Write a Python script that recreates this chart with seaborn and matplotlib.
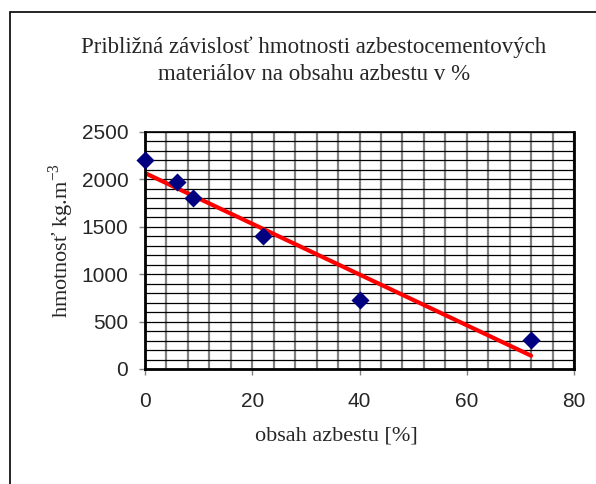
import matplotlib
matplotlib.use("Agg")
import matplotlib.pyplot as plt
from matplotlib.patches import Rectangle
from matplotlib.ticker import MultipleLocator
import pandas as pd
import seaborn as sns

# obsah azbestu [%] vs hmotnost [kg/m3]
asbestos_pct = [0, 6, 9, 22, 40, 72]
density = [2200, 1975, 1800, 1400, 730, 310]

title = "Približná závislosť hmotnosti azbestocementových\nmateriálov na obsahu azbestu v %"
xlabel = "obsah azbestu [%]"
ylabel = "hmotnosť kg.m$^{-3}$"

sns.set_theme(style="white")
plt.rcParams["font.family"] = ["Liberation Sans", "DejaVu Sans"]
plt.rcParams["mathtext.fontset"] = "custom"
plt.rcParams["mathtext.rm"] = "Liberation Serif"

frame = pd.DataFrame({"x": asbestos_pct, "y": density})

fig = plt.figure(figsize=(5.96, 4.84), dpi=100)
ax = fig.add_axes([145 / 596, 1 - 369 / 484, 429 / 596, 237 / 484])

ax.set_xlim(0, 80); ax.set_ylim(0, 2500)
ax.xaxis.set_major_locator(MultipleLocator(20)); ax.xaxis.set_minor_locator(MultipleLocator(4))
ax.yaxis.set_major_locator(MultipleLocator(500)); ax.yaxis.set_minor_locator(MultipleLocator(100))
ax.grid(True, which="both", axis="x", color="#808080", lw=1.6, zorder=0)
ax.grid(True, which="both", axis="y", color="black", lw=0.9, zorder=0)
ax.set_axisbelow(True)

sns.regplot(data=frame, x="x", y="y", ci=None, ax=ax, truncate=True,
            marker="D", scatter_kws={"color": "#000080", "s": 85, "alpha": 1, "linewidths": 0,
                                     "zorder": 3, "clip_on": False},
            line_kws={"color": "#ff0000", "lw": 3, "zorder": 2})

for side in ["left", "bottom", "right", "top"]:
    ax.spines[side].set_visible(True); ax.spines[side].set_color("black")
ax.spines["left"].set_linewidth(2); ax.spines["bottom"].set_linewidth(2)
ax.spines["right"].set_linewidth(2); ax.spines["top"].set_linewidth(1.2)

ax.tick_params(which="major", direction="out", length=4, width=1, color="#808080",
               labelsize=15, bottom=True, left=True)
ax.tick_params(which="minor", length=0)
ax.tick_params(axis="x", pad=12.5)
ax.tick_params(axis="y", pad=8)
ax.set_xlabel(""); ax.set_ylabel("")

fig.text(336 / 596, 1 - 436 / 484, xlabel, ha="center", va="center", family=["Liberation Serif"], fontsize=16)
fig.text(61 / 596, 1 - 241 / 484, ylabel, ha="center", va="center", rotation=90,
         family=["Liberation Serif"], fontsize=16)
fig.text(314 / 596, 1 - 61 / 484, title, ha="center", va="center", family=["Liberation Serif"],
         fontsize=16.5, linespacing=1.35)

fig.patches.append(Rectangle((10 / 596, -0.1), 1.2, 1.1 - 12 / 484, transform=fig.transFigure,
                             fill=False, edgecolor="black", lw=1.2))

fig.savefig("out.png", dpi=100)
